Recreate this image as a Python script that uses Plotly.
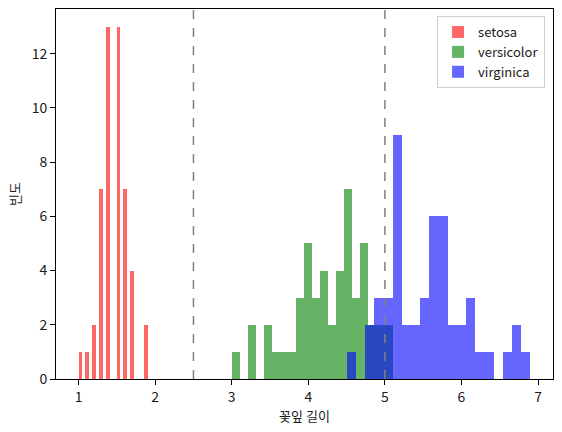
import numpy as np
import plotly.graph_objects as go

setosa = [1.4,1.4,1.3,1.5,1.4,1.7,1.4,1.5,1.4,1.5,1.5,1.6,1.4,1.1,1.2,1.5,1.3,1.4,1.7,1.5,
          1.7,1.5,1.0,1.7,1.9,1.6,1.6,1.5,1.4,1.6,1.6,1.5,1.5,1.4,1.5,1.2,1.3,1.4,1.3,1.5,
          1.3,1.3,1.3,1.6,1.9,1.4,1.6,1.4,1.5,1.4]
versicolor = [4.7,4.5,4.9,4.0,4.6,4.5,4.7,3.3,4.6,3.9,3.5,4.2,4.0,4.7,3.6,4.4,4.5,4.1,4.5,3.9,
              4.8,4.0,4.9,4.7,4.3,4.4,4.8,5.0,4.5,3.5,3.8,3.7,3.9,5.1,4.5,4.5,4.7,4.4,4.1,4.0,
              4.4,4.6,4.0,3.3,4.2,4.2,4.2,4.3,3.0,4.1]
virginica = [6.0,5.1,5.9,5.6,5.8,6.6,4.5,6.3,5.8,6.1,5.1,5.3,5.5,5.0,5.1,5.3,5.5,6.7,6.9,5.0,
             5.7,4.9,6.7,4.9,5.7,6.0,4.8,4.9,5.6,5.8,6.1,6.4,5.6,5.1,5.6,6.1,5.6,5.5,4.8,5.4,
             5.6,5.1,5.1,5.9,5.7,5.2,5.0,5.2,5.4,5.1]
species = ["setosa", "versicolor", "virginica"]
colors = ["rgba(255,0,0,0.6)", "rgba(0,128,0,0.6)", "rgba(0,0,255,0.6)"]
thresholds = [2.5, 5.0]
x_ticks = [1, 2, 3, 4, 5, 6, 7]
y_ticks = [0, 2, 4, 6, 8, 10, 12]

FONT = "Noto Sans CJK KR, DejaVu Sans, sans-serif"

fig = go.Figure()
for name, data, col in zip(species, [setosa, versicolor, virginica], colors):
    counts, edges = np.histogram(data, bins=20)
    centers = (edges[:-1] + edges[1:]) / 2
    widths = np.diff(edges)
    fig.add_trace(go.Bar(x=centers, y=counts, width=widths, name=name,
                         marker=dict(color=col, line=dict(width=0))))

for t in thresholds:
    fig.add_vline(x=t, line=dict(color="rgba(128,128,128,1)", dash="dash", width=1.5), layer="above")

fig.update_layout(
    width=562, height=432,
    barmode="overlay",
    bargap=0,
    paper_bgcolor="white", plot_bgcolor="white",
    margin=dict(l=56, r=9, t=9, b=53),
    font=dict(family=FONT, size=14, color="#1a1a1a"),
    showlegend=True,
    legend=dict(x=0.984, y=0.981, xanchor="right", yanchor="top",
                bgcolor="rgba(255,255,255,0.8)", bordercolor="#d0d0d0", borderwidth=1,
                font=dict(size=13), tracegroupgap=0),
    xaxis=dict(range=[0.705, 7.195], tickvals=x_ticks, ticks="outside", ticklen=5,
               tickcolor="black", showline=True, linecolor="black", linewidth=1, mirror=True,
               showgrid=False, zeroline=False,
               title=dict(text="꽃잎 길이", standoff=4, font=dict(size=13))),
    yaxis=dict(range=[0, 13.65], tickvals=y_ticks, ticks="outside", ticklen=5,
               tickcolor="black", showline=True, linecolor="black", linewidth=1, mirror=True,
               showgrid=False, zeroline=False,
               title=dict(text="빈도", standoff=8, font=dict(size=13))),
)

fig.write_html("out.html", config={"displayModeBar": False},
               post_script="document.body.style.margin='0';")
